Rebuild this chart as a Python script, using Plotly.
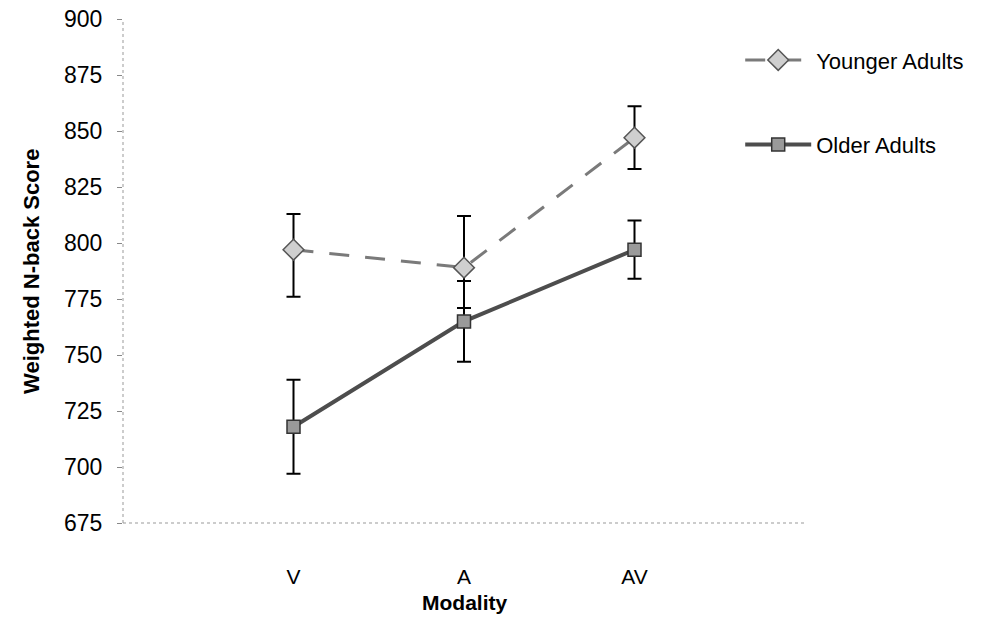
import plotly.graph_objects as go

categories = ["V", "A", "AV"]
younger_mean = [797, 789, 847]
younger_err_plus = [16, 23, 14]
younger_err_minus = [21, 18, 14]
older_mean = [718, 765, 797]
older_err_plus = [21, 18, 13]
older_err_minus = [21, 18, 13]
y_ticks = [675, 700, 725, 750, 775, 800, 825, 850, 875, 900]

FONT = "Liberation Sans, Arial, sans-serif"
x_idx = list(range(len(categories)))

fig = go.Figure()
fig.add_trace(go.Scatter(
    x=x_idx, y=younger_mean, name="Younger Adults", mode="lines+markers",
    line=dict(color="#7a7a7a", width=3, dash="20px,16px"),
    marker=dict(symbol="diamond", size=16, color="#cfcfcf",
                line=dict(color="#555555", width=1.5)),
    error_y=dict(type="data", symmetric=False, array=younger_err_plus,
                 arrayminus=younger_err_minus, color="black", thickness=2, width=7),
    legendgroup="y",
))
fig.add_trace(go.Scatter(
    x=x_idx, y=older_mean, name="Older Adults", mode="lines+markers",
    line=dict(color="#4d4d4d", width=4),
    marker=dict(symbol="square", size=13, color="#9a9a9a",
                line=dict(color="#333333", width=1.5)),
    error_y=dict(type="data", symmetric=False, array=older_err_plus,
                 arrayminus=older_err_minus, color="black", thickness=2, width=7),
    legendgroup="o",
))

fig.update_layout(
    width=1003, height=622,
    margin=dict(l=123, r=198, t=19, b=99, autoexpand=False),
    paper_bgcolor="white", plot_bgcolor="white",
    font=dict(family=FONT, size=22, color="black"),
    showlegend=True,
    legend=dict(x=0.905, y=0.96, xanchor="left", yanchor="top",
                font=dict(size=22), itemwidth=66, tracegroupgap=53,
                traceorder="grouped", bgcolor="rgba(0,0,0,0)"),
    xaxis=dict(range=[-1, 3], tickvals=x_idx, ticktext=categories,
               showgrid=False, zeroline=False, showline=False, automargin=False,
               ticks="", ticklabelstandoff=39, tickfont=dict(size=21)),
    yaxis=dict(range=[675, 900], tickvals=y_ticks, showgrid=False, automargin=False,
               zeroline=False, showline=False, ticks="outside", ticklen=5,
               tickcolor="#888888", ticklabelstandoff=10, tickfont=dict(size=23)),
    shapes=[
        dict(type="line", xref="paper", yref="paper", x0=0, x1=0, y0=0, y1=1,
             line=dict(color="#999999", width=1, dash="dot")),
        dict(type="line", xref="paper", yref="paper", x0=0, x1=1, y0=0, y1=0,
             line=dict(color="#999999", width=1, dash="dot")),
    ],
    annotations=[
        dict(text="<b>Weighted N-back Score</b>", xref="paper", yref="paper",
             x=-0.135, y=0.5, textangle=-90, showarrow=False,
             font=dict(size=22, family=FONT), xanchor="center", yanchor="middle"),
        dict(text="<b>Modality</b>", xref="paper", yref="paper",
             x=0.5, y=-0.158, showarrow=False,
             font=dict(size=21, family=FONT), xanchor="center", yanchor="middle"),
    ],
)

fig.write_html("out.html")
